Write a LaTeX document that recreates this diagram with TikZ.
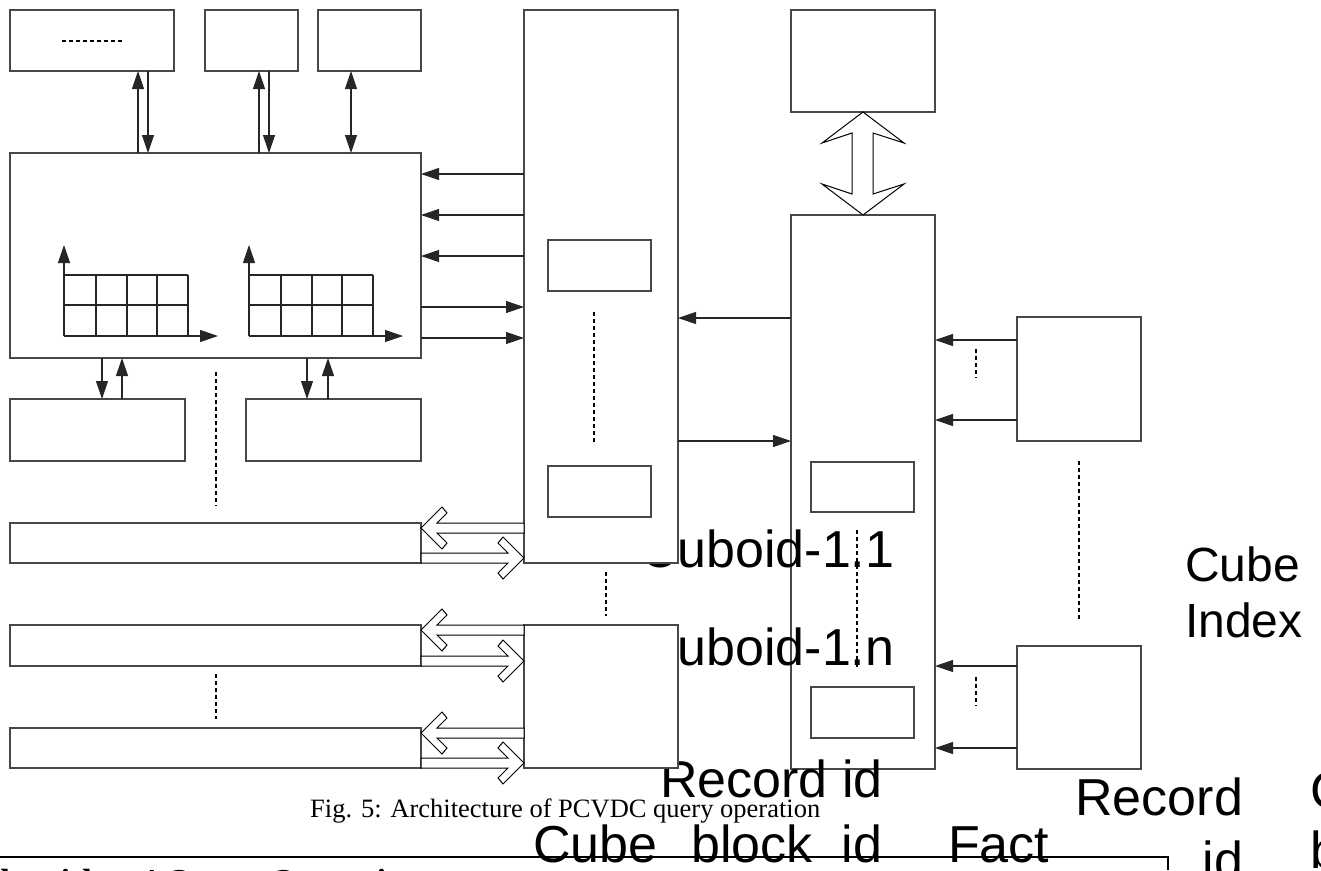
\documentclass[tikz,border=0pt]{standalone}
\usepackage{fontspec}
\setmainfont{Liberation Serif}
\newfontfamily\arialf{Liberation Sans}
\usetikzlibrary{arrows.meta}
\begin{document}
\begin{tikzpicture}[x=1pt,y=-1pt,
  box/.style={draw=black!72,line width=1.3pt,fill=white,inner sep=0pt,outer sep=0pt},
  arr/.style={draw=black!85,line width=1.1pt,-{Triangle[length=18pt,width=12pt]}},
  darr/.style={draw=black!85,line width=1.1pt,{Triangle[length=18pt,width=12pt]}-{Triangle[length=18pt,width=12pt]}},
  dotl/.style={draw=black,line width=2.8pt,dash pattern=on 4pt off 3pt},
  hol/.style={draw=black,line width=1pt,fill=white,line join=miter},
  gridl/.style={draw=black!85,line width=1.1pt},
  big/.style={font=\arialf\fontsize{52}{60}\selectfont,inner sep=0pt,outer sep=0pt},
  mid/.style={font=\arialf\fontsize{48}{56}\selectfont,inner sep=0pt,outer sep=0pt}]
\useasboundingbox (0,0) rectangle (1321,870);
\clip (0,0) rectangle (1321,870);

% ---- right column (drawn below the overflowing texts)
\node[box,minimum width=144pt,minimum height=102pt] (T) at (863,61) {};
\node[box,minimum width=144pt,minimum height=554pt] (R) at (863,492) {};
\node[box,minimum width=103pt,minimum height=50pt] (Ra) at (862.5,487) {};
\node[box,minimum width=103pt,minimum height=51pt] (Rb) at (862.5,712.5) {};
\node[box,minimum width=124pt,minimum height=124pt] (S1) at (1079,379) {};
\node[box,minimum width=124pt,minimum height=123pt] (S2) at (1079,707.5) {};

% ---- overflowing texts
\node[big,anchor=base west] (t11) at (640,567) {Cuboid-1.1};
\node[big,anchor=base west] (t1n) at (640,665) {Cuboid-1.n};
\node[big,anchor=base west] (trec) at (660,797) {Record id};
\node[big,anchor=base west] (tcbi) at (533,862) {Cube\hspace{34pt}block\hspace{29pt}id};
\node[big,anchor=base west] (tfact) at (948,862) {Fact};
\node[big,anchor=base east] (trec2) at (1243,815) {Record};
\node[big,anchor=base east] (tid2) at (1243,878) {id};
\node[mid,anchor=base west] (tcube) at (1185,581) {Cube};
\node[mid,anchor=base west] (tindex) at (1185,637) {Index};
\node[big,anchor=base west] (tcb1) at (1310,808) {Cube};
\node[big,anchor=base west] (tcb2) at (1310,868) {block};

% ---- left / centre boxes
\node[box,minimum width=164pt,minimum height=61pt] (A1) at (92,40.5) {};
\node[box,minimum width=93pt,minimum height=61pt] (A2) at (251.5,40.5) {};
\node[box,minimum width=103pt,minimum height=61pt] (A3) at (369.5,40.5) {};
\node[box,minimum width=411pt,minimum height=205pt] (M) at (215.5,255.5) {};
\node[box,minimum width=175pt,minimum height=62pt] (B1) at (97.5,430) {};
\node[box,minimum width=175pt,minimum height=62pt] (B2) at (333.5,430) {};
\node[box,minimum width=411pt,minimum height=40pt] (L1) at (215.5,543) {};
\node[box,minimum width=411pt,minimum height=41pt] (L2) at (215.5,645.5) {};
\node[box,minimum width=411pt,minimum height=40pt] (L3) at (215.5,748) {};
\node[box,minimum width=154pt,minimum height=553pt] (C1) at (601,286.5) {};
\node[box,minimum width=103pt,minimum height=51pt] (C1a) at (599.5,265.5) {};
\node[box,minimum width=103pt,minimum height=51pt] (C1b) at (599.5,491.5) {};
\node[box,minimum width=154pt,minimum height=143pt] (C2) at (601,696.5) {};

% dashes inside A1
\draw[dotl] (62,41) -- (124,41);

% grids inside M
\foreach \ox in {0,185}{
  \foreach \x in {64,96,127,157,188} \draw[gridl] (\x+\ox,275) -- (\x+\ox,336);
  \draw[gridl] (64+\ox,275) -- (188+\ox,275);
  \draw[gridl] (64+\ox,305) -- (188+\ox,305);
  \draw[arr] (64+\ox,336) -- (64+\ox,245);
  \draw[arr] (64+\ox,336) -- (218+\ox,336);
}

% arrows top boxes <-> M
\draw[arr] (138,0 |- M.north) -- (138,0 |- A1.south);
\draw[arr] (148,0 |- A1.south) -- (148,0 |- M.north);
\draw[arr] (259,0 |- M.north) -- (259,0 |- A2.south);
\draw[arr] (269,0 |- A2.south) -- (269,0 |- M.north);
\draw[darr] (351,0 |- A3.south) -- (351,0 |- M.north);

% arrows M <-> B1, B2
\draw[arr] (102,0 |- M.south) -- (102,0 |- B1.north);
\draw[arr] (122,0 |- B1.north) -- (122,0 |- M.south);
\draw[arr] (307,0 |- M.south) -- (307,0 |- B2.north);
\draw[arr] (328,0 |- B2.north) -- (328,0 |- M.south);

% arrows C1 <-> M
\foreach \y in {174,215,256} \draw[arr] (C1.west |- 0,\y) -- (M.east |- 0,\y);
\foreach \y in {307,338} \draw[arr] (M.east |- 0,\y) -- (C1.west |- 0,\y);

% arrows C1 <-> R
\draw[arr] (R.west |- 0,318) -- (C1.east |- 0,318);
\draw[arr] (C1.east |- 0,441) -- (R.west |- 0,441);

% arrows S -> R
\draw[arr] (S1.west |- 0,340) -- (R.east |- 0,340);
\draw[arr] (S1.west |- 0,420) -- (R.east |- 0,420);
\draw[arr] (S2.west |- 0,666) -- (R.east |- 0,666);
\draw[arr] (S2.west |- 0,748) -- (R.east |- 0,748);

% hollow double arrow T <-> R
\draw[hol] (T.south) -- (904,143) -- (873,133) -- (873,194) -- (904,184) -- (R.north)
  -- (822,184) -- (852,194) -- (852,133) -- (822,143) -- cycle;

% hollow arrows strips <-> centre boxes
\foreach \ty in {528,630,733}{
  \draw[hol] (421,\ty) -- ++(21,-21) -- ++(5,6) -- ++(-10,10) -- (524,{\ty-5})
     -- (524,{\ty+5}) -- (437,{\ty+5}) -- ++(10,10) -- ++(-5,6) -- cycle;
}
\foreach \ty in {558,661,763}{
  \draw[hol] (524,\ty) -- ++(-21,-21) -- ++(-5,6) -- ++(10,10) -- (421,{\ty-5})
     -- (421,{\ty+5}) -- (508,{\ty+5}) -- ++(-10,10) -- ++(5,6) -- cycle;
}

% dotted continuation marks
\draw[dotl] (216,372) -- (216,506);
\draw[dotl] (216,674) -- (216,719);
\draw[dotl] (594,312) -- (594,445);
\draw[dotl] (606,572) -- (606,616);
\draw[dotl,line width=2.4pt] (857,530) -- (857,667);
\draw[dotl,line width=2.4pt] (976,349) -- (976,378);
\draw[dotl,line width=2.4pt] (976,677) -- (976,706);
\draw[dotl,line width=2.4pt] (1079,461) -- (1079,621);

% caption
\node[font=\fontsize{26.5}{30}\selectfont,anchor=base west,inner sep=0pt] (cap) at (310,817) {Fig. 5: Architecture of PCVDC query operation};

% algorithm frame
\coordinate (fl) at (0,857);
\coordinate (fr) at (1168,857);
\coordinate (fb) at (1168,870);
\draw[line width=1.8pt] (fl) -- (fr) -- (fb);
\node[font=\bfseries\fontsize{35}{40}\selectfont,anchor=base west,inner sep=0pt] (alg) at (-25,893) {Algorithm 4 Query Operation};
\end{tikzpicture}
\end{document}
